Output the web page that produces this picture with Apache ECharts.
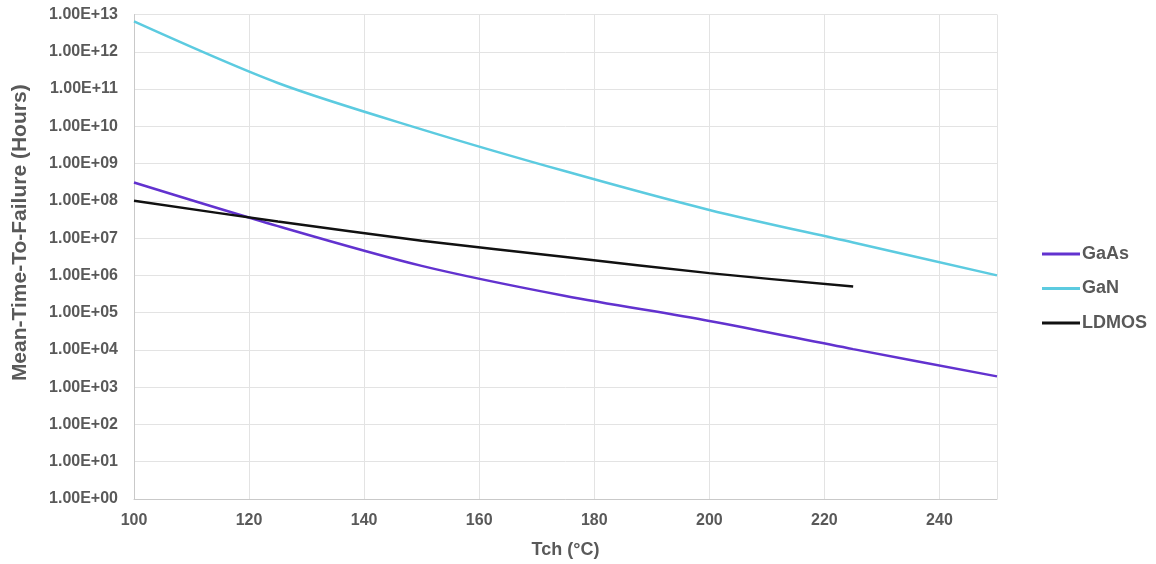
<!DOCTYPE html>
<html>
<head>
<meta charset="utf-8">
<script src="https://cdn.jsdelivr.net/npm/echarts@6/dist/echarts.min.js"></script>
<style>
  html, body { margin: 0; padding: 0; background: #fff; }
  #chart { width: 1156px; height: 564px; }
</style>
</head>
<body>
<div id="chart"></div>
<script>
// Channel temperature (°C)
const temps = [100, 125, 150, 175, 200, 225, 250];
// Mean time to failure (hours) per technology
const gaas  = [3.1e8, 2.1e7, 1.8e6, 2.8e5, 6.0e4, 1.05e4, 1.95e3];
const gan   = [6.5e12, 1.45e11, 8.3e9, 6.2e8, 5.7e7, 7.6e6, 1.0e6];
const ldmos = [1.0e8, 2.8e7, 8.5e6, 3.1e6, 1.15e6, 5.0e5];
const seriesNames = ['GaAs', 'GaN', 'LDMOS'];
const xTicks = [100, 120, 140, 160, 180, 200, 220, 240];

const pairs = (xs, ys) => ys.map((v, i) => [xs[i], v]);

// Scientific label in spreadsheet style, e.g. 1.00E+05
function sci(v) {
  const e = Math.round(Math.log10(v));
  const m = v / Math.pow(10, e);
  const sign = e < 0 ? '-' : '+';
  const ee = String(Math.abs(e)).padStart(2, '0');
  return m.toFixed(2) + 'E' + sign + ee;
}

const gray = '#595959';
const font = 'Liberation Sans, Arial, sans-serif';

const chart = echarts.init(document.getElementById('chart'));
chart.setOption({
  animation: false,
  backgroundColor: '#ffffff',
  textStyle: { fontFamily: font },
  grid: { left: 134, right: 159, top: 14.5, bottom: 65, containLabel: false },
  legend: {
    orient: 'vertical',
    left: 1037,
    top: 240,
    itemWidth: 38,
    itemHeight: 3,
    itemGap: 16.5,
    icon: 'rect',
    data: seriesNames,
    textStyle: { color: gray, fontSize: 18, fontWeight: 'bold', fontFamily: font, padding: [0, 0, 0, -3] }
  },
  xAxis: {
    type: 'value',
    min: 100,
    max: 250,
    interval: 20,
    name: 'Tch (°C)',
    nameLocation: 'middle',
    nameGap: 42,
    nameTextStyle: { color: gray, fontSize: 18, fontWeight: 'bold', fontFamily: font },
    axisLine: { show: true, lineStyle: { color: '#c9c9c9', width: 1 } },
    axisTick: { show: false },
    axisLabel: {
      color: gray, fontSize: 16, fontWeight: 'bold', fontFamily: font, margin: 14,
      formatter: v => (xTicks.indexOf(v) >= 0 ? String(v) : '')
    },
    splitLine: { show: true, lineStyle: { color: '#e3e3e3', width: 1 } }
  },
  yAxis: {
    type: 'log',
    logBase: 10,
    min: 1,
    max: 1e13,
    interval: 1,
    name: 'Mean-Time-To-Failure (Hours)',
    nameLocation: 'middle',
    nameGap: 103,
    nameTextStyle: { color: gray, fontSize: 21, fontWeight: 'bold', fontFamily: font, padding: [0, 0, 0, 48] },
    axisLine: { show: true, lineStyle: { color: '#c9c9c9', width: 1 } },
    axisTick: { show: false },
    axisLabel: {
      color: gray, fontSize: 16, fontWeight: 'bold', fontFamily: font, margin: 16,
      formatter: v => sci(v)
    },
    splitLine: { show: true, lineStyle: { color: '#e3e3e3', width: 1 } }
  },
  series: [
    { name: 'GaAs', type: 'line', data: pairs(temps, gaas), smooth: 0.3, showSymbol: false,
      lineStyle: { color: '#6232cf', width: 2.5 }, itemStyle: { color: '#6232cf' } },
    { name: 'GaN', type: 'line', data: pairs(temps, gan), smooth: 0.3, showSymbol: false,
      lineStyle: { color: '#5ccbe0', width: 2.5 }, itemStyle: { color: '#5ccbe0' } },
    { name: 'LDMOS', type: 'line', data: pairs(temps, ldmos), smooth: 0.3, showSymbol: false,
      lineStyle: { color: '#111111', width: 2.5 }, itemStyle: { color: '#111111' } }
  ]
});
</script>
</body>
</html>
